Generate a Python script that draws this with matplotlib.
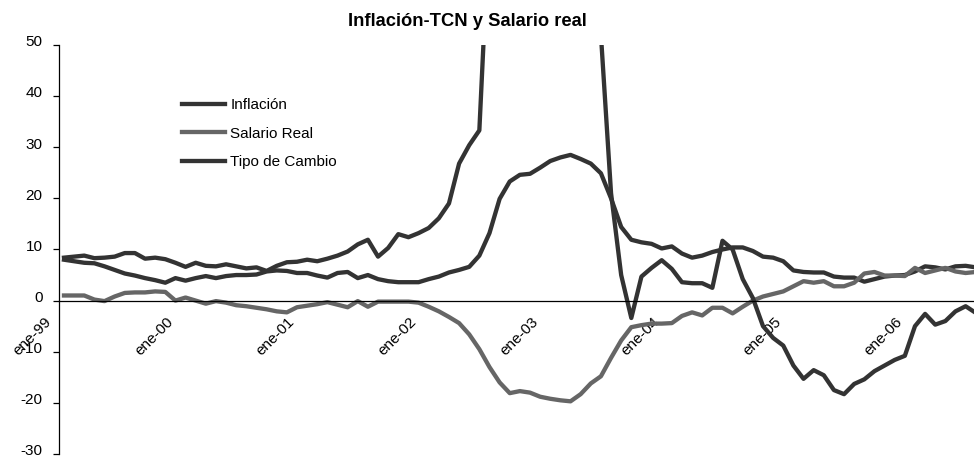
import matplotlib
matplotlib.use("Agg")
import matplotlib.pyplot as plt
import matplotlib.transforms as mtransforms
import numpy as np

plt.rcParams['font.family'] = ['Liberation Sans', 'DejaVu Sans']
plt.rcParams['axes.unicode_minus'] = False

# monthly series, ene-99 .. jul-06 (91 months)
inflacion = [8.0, 7.7, 7.4, 7.3, 6.7, 6.0, 5.3, 4.9, 4.4, 4.0, 3.5, 4.4,
             3.9, 4.4, 4.8, 4.4, 4.8, 5.0, 5.0, 5.1, 5.7, 5.9, 5.8, 5.4,
             5.4, 4.9, 4.5, 5.4, 5.6, 4.4, 5.0, 4.2, 3.8, 3.6, 3.6, 3.6,
             4.2, 4.7, 5.5, 6.0, 6.6, 8.8, 13.2, 19.9, 23.3, 24.6, 24.8, 26.0,
             27.3, 28.0, 28.5, 27.7, 26.8, 24.9, 20.0, 14.4, 11.9, 11.4, 11.1, 10.2,
             10.6, 9.2, 8.4, 8.8, 9.5, 10.0, 10.4, 10.4, 9.7, 8.6, 8.4, 7.7,
             5.9, 5.6, 5.5, 5.5, 4.7, 4.5, 4.5, 3.7, 4.2, 4.7, 4.9, 5.0,
             5.7, 6.7, 6.5, 6.1, 6.7, 6.8, 6.5]

salario_real = [1.0, 1.0, 1.0, 0.2, -0.1, 0.8, 1.5, 1.6, 1.6, 1.8, 1.7, 0.0,
                0.6, 0.0, -0.6, -0.1, -0.4, -0.9, -1.1, -1.4, -1.7, -2.1, -2.3, -1.3,
                -1.0, -0.7, -0.3, -0.8, -1.3, -0.1, -1.2, -0.2, -0.2, -0.2, -0.2, -0.4,
                -1.2, -2.1, -3.2, -4.4, -6.6, -9.5, -13.0, -16.0, -18.1, -17.7, -18.0, -18.8,
                -19.2, -19.5, -19.7, -18.3, -16.2, -14.8, -11.2, -7.8, -5.2, -4.8, -4.5, -4.5,
                -4.4, -3.0, -2.3, -2.9, -1.4, -1.4, -2.5, -1.2, 0.0, 0.8, 1.3, 1.8,
                2.8, 3.8, 3.5, 3.8, 2.8, 2.8, 3.5, 5.3, 5.6, 4.9, 4.9, 4.8,
                6.4, 5.4, 5.9, 6.4, 5.7, 5.4, 5.6]

tipo_cambio = [8.4, 8.6, 8.8, 8.3, 8.4, 8.6, 9.3, 9.3, 8.2, 8.4, 8.1, 7.4,
               6.6, 7.4, 6.8, 6.7, 7.1, 6.7, 6.3, 6.5, 5.8, 6.8, 7.5, 7.6,
               8.0, 7.7, 8.2, 8.8, 9.6, 11.0, 11.9, 8.6, 10.3, 13.0, 12.4, 13.2,
               14.2, 16.1, 19.0, 26.8, 30.4, 33.3, 75.0, 95.0, 108.0, 115.0, 118.0, 112.0,
               104.0, 95.0, 86.0, 76.0, 65.0, 52.0, 21.0, 5.0, -3.4, 4.7, 6.4, 7.9,
               6.2, 3.6, 3.4, 3.4, 2.5, 11.7, 10.0, 4.2, 0.5, -5.0, -7.3, -8.8,
               -12.7, -15.3, -13.6, -14.6, -17.5, -18.3, -16.3, -15.4, -13.8, -12.7, -11.6, -10.8,
               -5.0, -2.6, -4.7, -4.0, -2.1, -1.1, -2.4]

tick_labels = ['ene-99', 'ene-00', 'ene-01', 'ene-02', 'ene-03', 'ene-04', 'ene-05', 'ene-06']

x = np.arange(len(inflacion))

fig = plt.figure(figsize=(9.74, 4.57), dpi=100)
ax = fig.add_axes([0.0605, 0.0066, 0.9465, 0.8950])

ax.plot(x, inflacion, color='#333333', lw=3.1, label='Inflación')
ax.plot(x, salario_real, color='#666666', lw=3.1, label='Salario Real')
ax.plot(x, tipo_cambio, color='#333333', lw=3.1, label='Tipo de Cambio')

ax.set_xlim(-0.5, len(x) - 0.5)
ax.set_ylim(-30, 50)
ax.set_yticks(range(-30, 51, 10))

ax.spines['top'].set_visible(False)
ax.spines['right'].set_visible(False)
ax.spines['bottom'].set_position(('data', 0))
ax.spines['bottom'].set_linewidth(0.9)
ax.spines['left'].set_linewidth(0.9)

ax.tick_params(axis='y', direction='out', length=4.3, width=0.9, pad=7.5,
               labelsize=11, colors='black')
ax.tick_params(axis='x', length=0, pad=10, labelsize=11)

# nudge y labels up a little so -30 stays inside the picture
yshift = mtransforms.ScaledTranslation(0, 3 / 72, fig.dpi_scale_trans)
for lab in ax.get_yticklabels():
    lab.set_transform(lab.get_transform() + yshift)

ax.set_xticks(x[::12])
ax.set_xticklabels(tick_labels, rotation=45, ha='right', va='top',
                   rotation_mode='anchor')
shift = mtransforms.ScaledTranslation(-14 / 72, 0, fig.dpi_scale_trans)
for lab in ax.get_xticklabels():
    lab.set_transform(lab.get_transform() + shift)

fig.text(467 / 974, 1 - 21 / 457, 'Inflación-TCN y Salario real',
         ha='center', va='center', fontsize=13.2, fontweight='bold')

ax.legend(loc='upper left', bbox_to_anchor=(182 / 974, 1 - 98 / 457),
          bbox_transform=fig.transFigure, frameon=False, borderpad=0,
          borderaxespad=0, handlelength=2.8, handletextpad=0.35,
          labelspacing=0.95, fontsize=11)

fig.savefig('out.png', dpi=100)
